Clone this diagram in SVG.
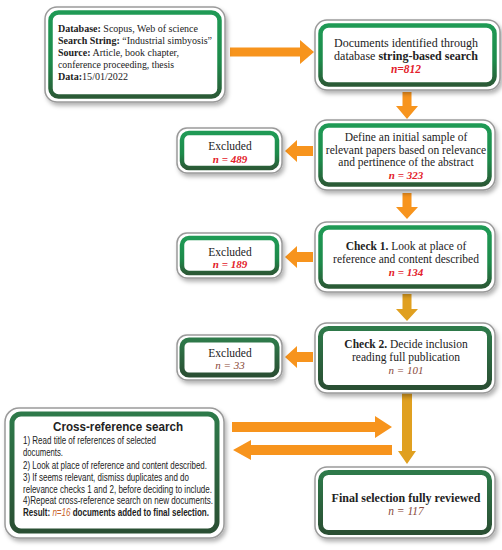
<svg xmlns="http://www.w3.org/2000/svg" width="502" height="550" viewBox="0 0 502 550">
<defs>
<linearGradient id="gs" x1="0" y1="0" x2="0" y2="1">
<stop offset="0" stop-color="#1f9a55"/>
<stop offset="0.6" stop-color="#1d8a4a"/>
<stop offset="1" stop-color="#2b5a36"/>
</linearGradient>
<linearGradient id="gd" x1="0" y1="0" x2="0" y2="1">
<stop offset="0" stop-color="#2e7a4a"/>
<stop offset="1" stop-color="#2a4f33"/>
</linearGradient>
<filter id="sh" x="-10%" y="-10%" width="125%" height="130%">
<feDropShadow dx="2" dy="3" stdDeviation="2" flood-color="#000" flood-opacity="0.3"/>
</filter>
</defs>
<style>
.outer{fill:#fff;stroke:#9a9a9a;stroke-width:1.5;filter:url(#sh)}
.green{fill:#fff;stroke:url(#gs);stroke-width:4.5}
.dark{fill:#fff;stroke:url(#gd);stroke-width:5}
.t{font-family:"Liberation Serif","Times New Roman",serif;fill:#222}
.s{font-family:"Liberation Sans",Arial,sans-serif;fill:#222}
.b{font-weight:bold}
.n{font-family:"Liberation Serif","Times New Roman",serif;font-style:italic;font-weight:bold;fill:#e3202a}
.nb{font-family:"Liberation Serif","Times New Roman",serif;font-style:italic;fill:#8a4a3a}
.ar{fill:#f7941d}
.ag{fill:#e0a020}
</style>

<g id="connectors">
<polygon class="ar" points="230,47.5 300,47.5 300,40 314,52 300,64 300,56.5 230,56.5"/>
<polygon class="ar" points="402.5,92 411.5,92 411.5,106 418,106 407,119 396,106 402.5,106"/>
<polygon class="ar" points="313,146 297,146 297,140 285,151 297,162 297,156 313,156"/>
<polygon class="ar" points="402.5,193 411.5,193 411.5,207 418,207 407,219 396,207 402.5,207"/>
<polygon class="ar" points="313,252 297,252 297,246 285,257 297,268 297,262 313,262"/>
<polygon class="ag" points="402.5,294 411.5,294 411.5,309 418,309 407,321 396,309 402.5,309"/>
<polygon class="ar" points="313,352 297,352 297,346 285,357 297,368 297,362 313,362"/>
<polygon class="ag" points="402,393 412,393 412,451 416,451 407,464 398,451 402,451"/>
<polygon class="ar" points="232,422 375,422 375,416 392,427 375,438 375,432 232,432"/>
<polygon class="ar" points="392,445 251,445 251,440 233,450 251,460 251,455 392,455"/>
</g>

<g id="search">
<rect class="outer" x="45" y="7" width="180" height="95" rx="12"/>
<rect class="green" x="50.5" y="12.5" width="169" height="84" rx="8"/>
<text class="t" font-size="10.5" x="58" y="32" textLength="140" lengthAdjust="spacingAndGlyphs"><tspan class="b">Database:</tspan> Scopus, Web of science</text>
<text class="t" font-size="10.5" x="58" y="44" textLength="154" lengthAdjust="spacingAndGlyphs"><tspan class="b">Search String:</tspan> “Industrial simbyosis”</text>
<text class="t" font-size="10.5" x="58" y="56" textLength="121" lengthAdjust="spacingAndGlyphs"><tspan class="b">Source:</tspan> Article, book chapter,</text>
<text class="t" font-size="10.5" x="58" y="68" textLength="116" lengthAdjust="spacingAndGlyphs">conference proceeding, thesis</text>
<text class="t" font-size="10.5" x="58" y="80" textLength="70" lengthAdjust="spacingAndGlyphs"><tspan class="b">Data:</tspan>15/01/2022</text>
</g>

<g id="identified">
<rect class="outer" x="315" y="20" width="185" height="70" rx="12"/>
<rect class="green" x="320.5" y="25.5" width="174" height="59" rx="8"/>
<text class="t" font-size="12" text-anchor="middle"><tspan x="406" y="47">Documents identified through</tspan><tspan x="406" y="60">database <tspan class="b">string-based search</tspan></tspan></text>
<text class="n" font-size="11.5" x="406" y="73" text-anchor="middle">n=812</text>
</g>

<g id="initial">
<rect class="outer" x="315" y="120" width="180" height="70" rx="12"/>
<rect class="green" x="320.5" y="125.5" width="169" height="59" rx="8"/>
<text class="t" font-size="11.5" text-anchor="middle"><tspan x="406" y="141">Define an initial sample of</tspan><tspan x="406" y="154">relevant papers based on relevance</tspan><tspan x="406" y="166">and pertinence of the abstract</tspan></text>
<text class="n" font-size="11" x="406" y="179" text-anchor="middle">n = 323</text>
</g>

<g id="excluded1">
<rect class="outer" x="177" y="128" width="105" height="45" rx="10"/>
<rect class="green" x="182" y="133" width="95" height="35" rx="7"/>
<text class="t" font-size="11.5" x="230" y="150" text-anchor="middle">Excluded</text>
<text class="n" font-size="11" x="230" y="163" text-anchor="middle">n = 489</text>
</g>

<g id="check1">
<rect class="outer" x="315" y="222" width="180" height="70" rx="12"/>
<rect class="green" x="320.5" y="227.5" width="169" height="59" rx="8"/>
<text class="t" font-size="11.5" text-anchor="middle"><tspan x="406" y="250"><tspan class="b">Check 1.</tspan> Look at place of</tspan><tspan x="406" y="263">reference and content described</tspan></text>
<text class="n" font-size="11" x="406" y="276" text-anchor="middle">n = 134</text>
</g>

<g id="excluded2">
<rect class="outer" x="177" y="233" width="105" height="45" rx="10"/>
<rect class="green" x="182" y="238" width="95" height="35" rx="7"/>
<text class="t" font-size="11.5" x="230" y="256" text-anchor="middle">Excluded</text>
<text class="n" font-size="11" x="230" y="268" text-anchor="middle">n = 189</text>
</g>

<g id="check2">
<rect class="outer" x="315" y="323" width="180" height="70" rx="12"/>
<rect class="dark" x="320.5" y="328.5" width="169" height="59" rx="8"/>
<text class="t" font-size="11.5" text-anchor="middle"><tspan x="406" y="348"><tspan class="b">Check 2.</tspan> Decide inclusion</tspan><tspan x="406" y="361">reading full publication</tspan></text>
<text class="nb" font-size="11" x="406" y="374" text-anchor="middle">n = 101</text>
</g>

<g id="excluded3">
<rect class="outer" x="177" y="335" width="105" height="45" rx="10"/>
<rect class="dark" x="182" y="340" width="95" height="35" rx="7"/>
<text class="t" font-size="11.5" x="230" y="357" text-anchor="middle">Excluded</text>
<text class="nb" font-size="11" x="230" y="369" text-anchor="middle">n = 33</text>
</g>

<g id="crossref">
<rect class="outer" x="5" y="408" width="219" height="130" rx="14"/>
<rect class="dark" x="12" y="414" width="205" height="117" rx="9"/>
<text class="s b" font-size="12.5" x="118" y="431" text-anchor="middle" textLength="130" lengthAdjust="spacingAndGlyphs">Cross-reference search</text>
<text class="s" font-size="10.5" x="23" y="444" textLength="133" lengthAdjust="spacingAndGlyphs">1) Read title of references of selected</text>
<text class="s" font-size="10.5" x="23" y="456" textLength="40" lengthAdjust="spacingAndGlyphs">documents.</text>
<text class="s" font-size="10.5" x="23" y="469" textLength="184" lengthAdjust="spacingAndGlyphs">2) Look at place of reference and content described.</text>
<text class="s" font-size="10.5" x="23" y="481" textLength="166" lengthAdjust="spacingAndGlyphs">3) If seems relevant, dismiss duplicates and do</text>
<text class="s" font-size="10.5" x="23" y="493" textLength="189" lengthAdjust="spacingAndGlyphs">relevance checks 1 and 2, before deciding to include.</text>
<text class="s" font-size="10.5" x="23" y="504" textLength="190" lengthAdjust="spacingAndGlyphs">4)Repeat  cross-reference search on new documents.</text>
<g transform="translate(23,516) scale(0.765,1)">
<text class="s b" font-size="10.5" x="0" y="0">Result: <tspan fill="#c8602a" font-style="italic" font-weight="normal">n=16</tspan> documents added to final selection.</text>
</g>
</g>

<g id="final">
<rect class="outer" x="315" y="467" width="180" height="71" rx="12"/>
<rect class="dark" x="320.5" y="472.5" width="169" height="60" rx="8"/>
<text class="t b" font-size="12" x="406" y="502" text-anchor="middle">Final selection fully reviewed</text>
<text class="nb" font-size="11.5" x="406" y="515" text-anchor="middle">n = 117</text>
</g>
</svg>
